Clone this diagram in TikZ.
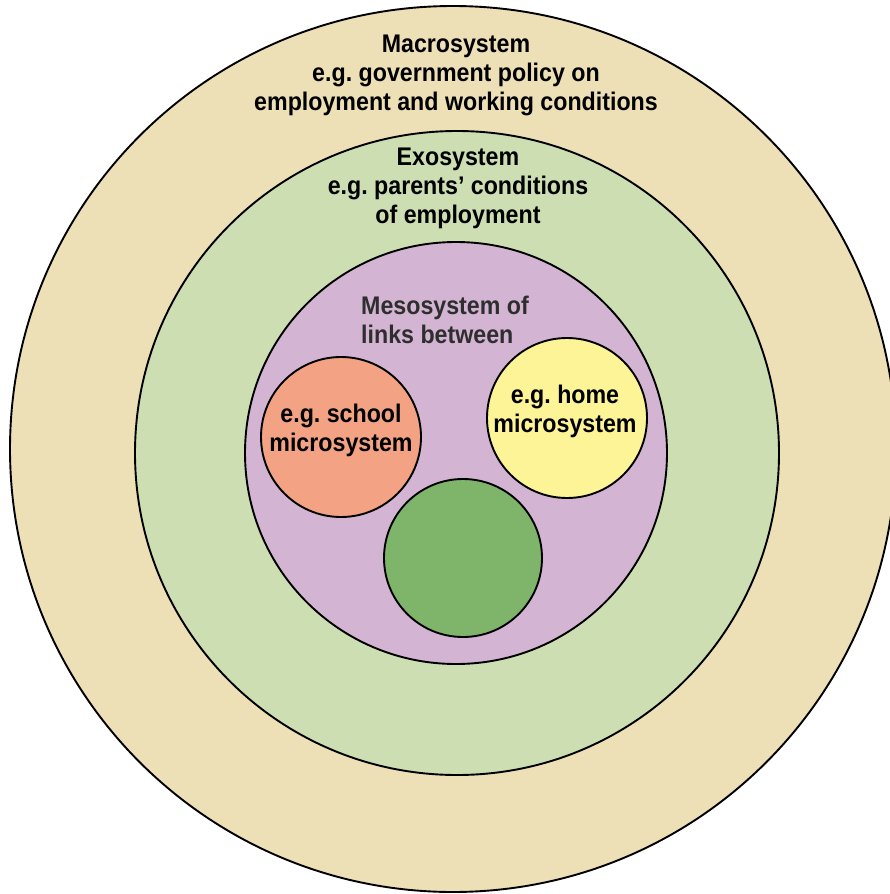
\documentclass[tikz,border=0pt]{standalone}
\usepackage{fontspec}
\setmainfont{Liberation Sans}[FakeStretch=0.91]
\frenchspacing
\definecolor{macro}{HTML}{EEE0B6}
\definecolor{exo}{HTML}{CDDFB2}
\definecolor{meso}{HTML}{D3B5D3}
\definecolor{school}{HTML}{F3A383}
\definecolor{home}{HTML}{FCF497}
\definecolor{third}{HTML}{7FB46B}
\tikzset{
  ring/.style={circle, draw=black, line width=1.9pt, inner sep=0pt},
  label/.style={font=\bfseries\fontsize{25.5}{29}\selectfont, text=black, inner sep=0pt},
}
\begin{document}
\begin{tikzpicture}[x=1pt,y=-1pt]
\useasboundingbox (0,0) rectangle (890,894);
\clip (0,0) rectangle (890,894);
\fill[white] (0,0) rectangle (890,894);
\node[ring, fill=macro, minimum size=886pt] (macro) at (453,449) {};
\node[ring, fill=exo, minimum size=644pt] (exo) at (457,453) {};
\node[ring, fill=meso, minimum size=422pt] (meso) at (456,453) {};
\node[ring, fill=school, minimum size=160pt] (school) at (341,437) {};
\node[ring, fill=home, minimum size=160pt] (home) at (567,418) {};
\node[ring, fill=third, minimum size=158pt] (third) at (463,558) {};
\node[label, align=center] (macrotext) at (456,75) {\frenchspacing Macrosystem\\e.g. government policy on\\employment and working conditions};
\node[label, align=center] (exotext) at (458,188) {\frenchspacing Exosystem\\e.g. parents’ conditions\\of employment};
\node[label, align=left, anchor=west, text=black!82] (mesotext) at (361,320) {Mesosystem of\\links between};
\node[label, align=center] (schooltext) at (341,430) {\frenchspacing e.g. school\\microsystem};
\node[label, align=center] (hometext) at (565,411) {\frenchspacing e.g. home\\microsystem};
\end{tikzpicture}
\end{document}
